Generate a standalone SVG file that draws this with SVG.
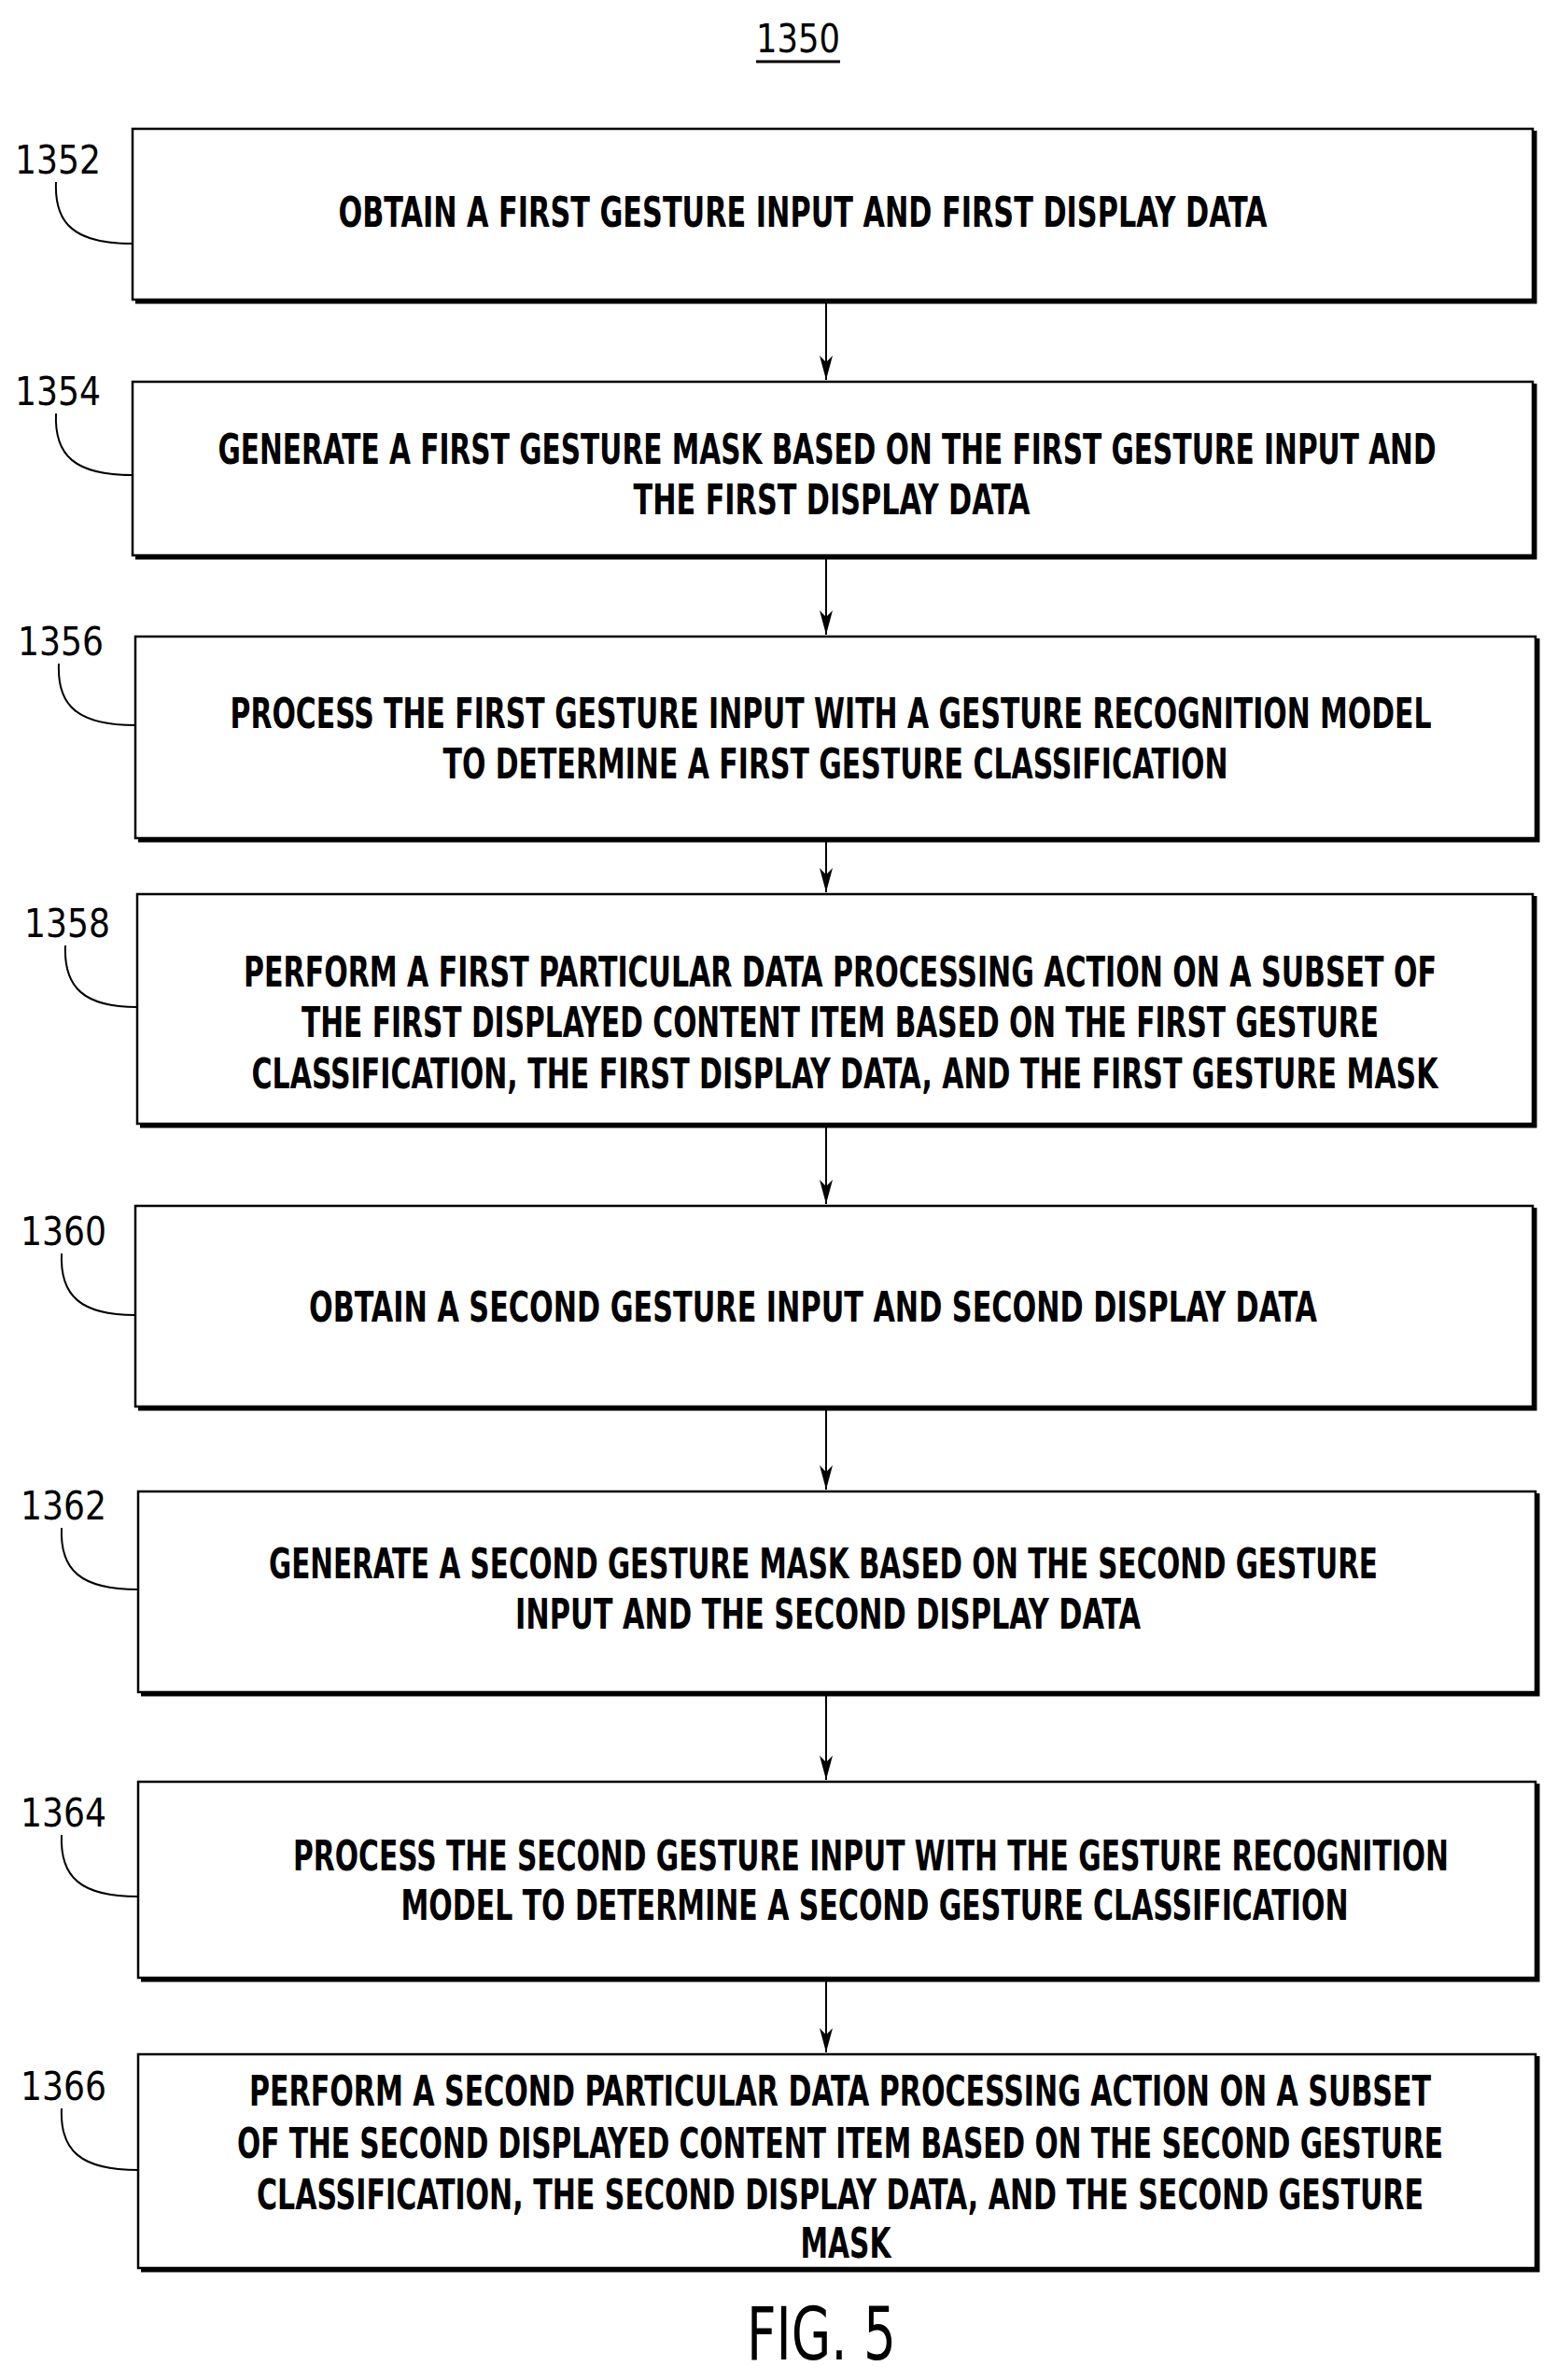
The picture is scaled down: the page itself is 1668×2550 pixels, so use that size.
<svg xmlns="http://www.w3.org/2000/svg" width="1668" height="2550" viewBox="0 0 1668 2550">
<defs>
<marker id="ah" markerWidth="26" markerHeight="14" refX="26" refY="7" orient="auto" markerUnits="userSpaceOnUse" viewBox="0 0 26 14"><path d="M0,0 L26,7 L0,14 L7,7 Z" fill="#000"/></marker>
</defs>
<style>
.b{fill:#fff;stroke:#000;stroke-width:2.5}
.s{fill:none;stroke:#000;stroke-width:5}
.t{font-family:"DejaVu Sans Condensed","Liberation Sans",sans-serif;font-size:44px;font-weight:bold;text-anchor:middle;fill:#000}
.l{font-family:"DejaVu Sans Condensed","Liberation Sans",sans-serif;font-size:42px;text-anchor:middle;fill:#000}
.ld{fill:none;stroke:#000;stroke-width:2}
.c{stroke:#000;stroke-width:2;fill:none;marker-end:url(#ah)}
</style>
<text class="l" x="855" y="56" textLength="90" lengthAdjust="spacingAndGlyphs">1350</text>
<line x1="810" y1="66" x2="900" y2="66" stroke="#000" stroke-width="3"/>
<g id="connectors">
<line class="c" x1="885" y1="324" x2="885" y2="407"/>
<line class="c" x1="885" y1="598" x2="885" y2="680"/>
<line class="c" x1="885" y1="901" x2="885" y2="956"/>
<line class="c" x1="885" y1="1207" x2="885" y2="1290"/>
<line class="c" x1="885" y1="1510" x2="885" y2="1596"/>
<line class="c" x1="885" y1="1816" x2="885" y2="1907"/>
<line class="c" x1="885" y1="2122" x2="885" y2="2199"/>
</g>
<g id="n1352">
<path class="s" d="M145,323 H1644 V140"/><rect class="b" x="142" y="138" width="1500" height="183"/>
<text class="l" x="62" y="186" textLength="92" lengthAdjust="spacingAndGlyphs">1352</text>
<path class="ld" d="M60,195 C58,240 80,261 142,261"/>
<text class="t" x="860" y="243" textLength="995" lengthAdjust="spacingAndGlyphs">OBTAIN A FIRST GESTURE INPUT AND FIRST DISPLAY DATA</text>
</g>
<g id="n1354">
<path class="s" d="M145,597 H1644 V411"/><rect class="b" x="142" y="409" width="1500" height="186"/>
<text class="l" x="62" y="434" textLength="92" lengthAdjust="spacingAndGlyphs">1354</text>
<path class="ld" d="M60,443 C58,488 80,509 142,509"/>
<text class="t" x="886" y="497" textLength="1305" lengthAdjust="spacingAndGlyphs">GENERATE A FIRST GESTURE MASK BASED ON THE FIRST GESTURE INPUT AND</text>
<text class="t" x="891" y="551" textLength="425" lengthAdjust="spacingAndGlyphs">THE FIRST DISPLAY DATA</text>
</g>
<g id="n1356">
<path class="s" d="M148,900 H1647 V684"/><rect class="b" x="145" y="682" width="1500" height="216"/>
<text class="l" x="65" y="702" textLength="92" lengthAdjust="spacingAndGlyphs">1356</text>
<path class="ld" d="M63,711 C61,756 83,777 145,777"/>
<text class="t" x="890" y="780" textLength="1287" lengthAdjust="spacingAndGlyphs">PROCESS THE FIRST GESTURE INPUT WITH A GESTURE RECOGNITION MODEL</text>
<text class="t" x="895" y="834" textLength="841" lengthAdjust="spacingAndGlyphs">TO DETERMINE A FIRST GESTURE CLASSIFICATION</text>
</g>
<g id="n1358">
<path class="s" d="M150,1206 H1644 V960"/><rect class="b" x="147" y="958" width="1495" height="246"/>
<text class="l" x="72" y="1004" textLength="92" lengthAdjust="spacingAndGlyphs">1358</text>
<path class="ld" d="M70,1013 C68,1058 90,1079 147,1079"/>
<text class="t" x="900" y="1057" textLength="1278" lengthAdjust="spacingAndGlyphs">PERFORM A FIRST PARTICULAR DATA PROCESSING ACTION ON A SUBSET OF</text>
<text class="t" x="900" y="1111" textLength="1154" lengthAdjust="spacingAndGlyphs">THE FIRST DISPLAYED CONTENT ITEM BASED ON THE FIRST GESTURE</text>
<text class="t" x="905" y="1166" textLength="1271" lengthAdjust="spacingAndGlyphs">CLASSIFICATION, THE FIRST DISPLAY DATA, AND THE FIRST GESTURE MASK</text>
</g>
<g id="n1360">
<path class="s" d="M148,1509 H1644 V1294"/><rect class="b" x="145" y="1292" width="1497" height="215"/>
<text class="l" x="68" y="1334" textLength="92" lengthAdjust="spacingAndGlyphs">1360</text>
<path class="ld" d="M66,1343 C64,1388 86,1409 145,1409"/>
<text class="t" x="871" y="1416" textLength="1080" lengthAdjust="spacingAndGlyphs">OBTAIN A SECOND GESTURE INPUT AND SECOND DISPLAY DATA</text>
</g>
<g id="n1362">
<path class="s" d="M151,1815 H1647 V1600"/><rect class="b" x="148" y="1598" width="1497" height="215"/>
<text class="l" x="68" y="1628" textLength="92" lengthAdjust="spacingAndGlyphs">1362</text>
<path class="ld" d="M66,1637 C64,1682 86,1703 148,1703"/>
<text class="t" x="882" y="1691" textLength="1188" lengthAdjust="spacingAndGlyphs">GENERATE A SECOND GESTURE MASK BASED ON THE SECOND GESTURE</text>
<text class="t" x="887" y="1745" textLength="670" lengthAdjust="spacingAndGlyphs">INPUT AND THE SECOND DISPLAY DATA</text>
</g>
<g id="n1364">
<path class="s" d="M151,2121 H1647 V1911"/><rect class="b" x="148" y="1909" width="1497" height="210"/>
<text class="l" x="68" y="1957" textLength="92" lengthAdjust="spacingAndGlyphs">1364</text>
<path class="ld" d="M66,1966 C64,2011 86,2032 148,2032"/>
<text class="t" x="933" y="2004" textLength="1238" lengthAdjust="spacingAndGlyphs">PROCESS THE SECOND GESTURE INPUT WITH THE GESTURE RECOGNITION</text>
<text class="t" x="937" y="2057" textLength="1015" lengthAdjust="spacingAndGlyphs">MODEL TO DETERMINE A SECOND GESTURE CLASSIFICATION</text>
</g>
<g id="n1366">
<path class="s" d="M151,2432 H1647 V2203"/><rect class="b" x="148" y="2201" width="1497" height="229"/>
<text class="l" x="68" y="2250" textLength="92" lengthAdjust="spacingAndGlyphs">1366</text>
<path class="ld" d="M66,2259 C64,2304 86,2325 148,2325"/>
<text class="t" x="900" y="2256" textLength="1266" lengthAdjust="spacingAndGlyphs">PERFORM A SECOND PARTICULAR DATA PROCESSING ACTION ON A SUBSET</text>
<text class="t" x="900" y="2312" textLength="1292" lengthAdjust="spacingAndGlyphs">OF THE SECOND DISPLAYED CONTENT ITEM BASED ON THE SECOND GESTURE</text>
<text class="t" x="900" y="2367" textLength="1250" lengthAdjust="spacingAndGlyphs">CLASSIFICATION, THE SECOND DISPLAY DATA, AND THE SECOND GESTURE</text>
<text class="t" x="906" y="2419" textLength="97" lengthAdjust="spacingAndGlyphs">MASK</text>
</g>
<text x="880" y="2528" font-family="DejaVu Sans Condensed, Liberation Sans, sans-serif" font-size="78" text-anchor="middle" textLength="160" lengthAdjust="spacingAndGlyphs">FIG. 5</text>
</svg>
